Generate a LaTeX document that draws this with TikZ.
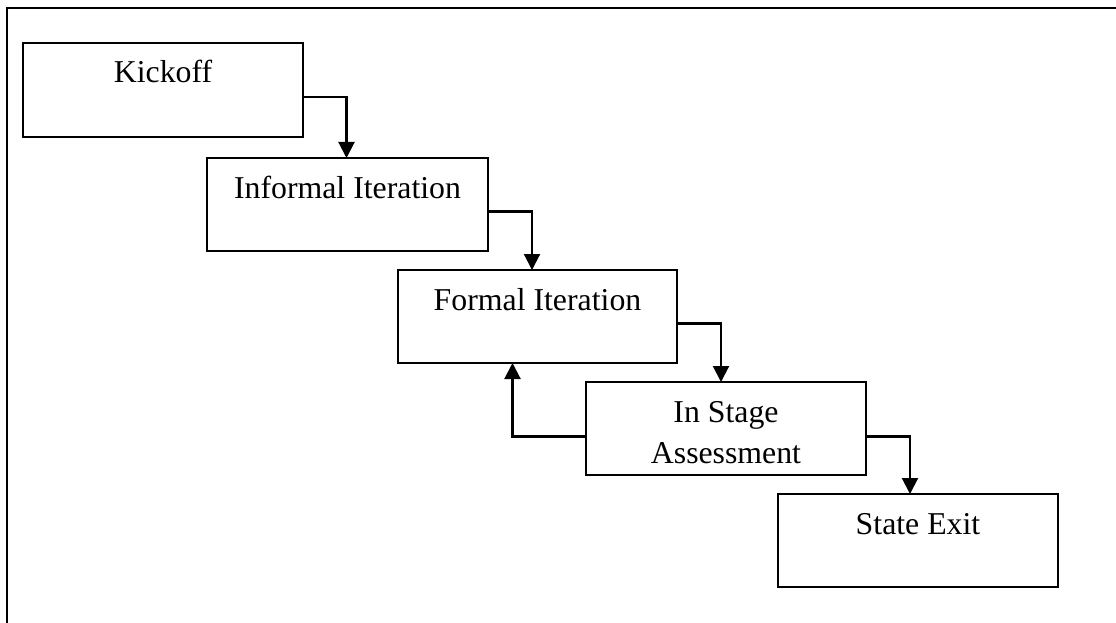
\documentclass[tikz,border=0pt]{standalone}
\usepackage{fontspec}
\setmainfont{Liberation Serif}
\usetikzlibrary{arrows.meta}

\tikzset{
  stage/.style={draw=black, line width=2.4pt, fill=white, minimum width=280pt,
                minimum height=93pt, inner sep=0pt, outer sep=0pt, anchor=north west},
  caption/.style={anchor=base, inner sep=0pt, font=\fontsize{31.8}{41}\selectfont},
  flow/.style={draw=black, line width=2.1pt, -{Triangle[length=16pt,width=16pt]}},
  frameline/.style={draw=black, line width=2.6pt}
}

\begin{document}
\begin{tikzpicture}[x=1pt, y=-1pt]
  \useasboundingbox (0,0) rectangle (1116,623);

  % open frame: top and left edges only
  \draw[frameline] (7,623) -- (7,8) -- (1116,8);

  % stages
  \node[stage, minimum height=94pt] (k) at (23,43) {};
  \node[stage, minimum width=281pt] (i) at (207,158) {};
  \node[stage, minimum width=279pt] (f) at (398,270) {};
  \node[stage] (a) at (586,382) {};
  \node[stage] (s) at (778,494) {};

  % stage captions, baseline 40pt below each top edge
  \node[caption] (kt) at ([yshift=-40pt]k.north) {Kickoff};
  \node[caption] (it) at ([yshift=-40pt]i.north) {Informal Iteration};
  \node[caption] (ft) at ([yshift=-40pt]f.north) {Formal Iteration};
  \node[caption] (at) at ([yshift=-40pt]a.north)
    {\setlength{\tabcolsep}{0pt}\begin{tabular}[t]{c}In Stage\\Assessment\end{tabular}};
  \node[caption] (st) at ([yshift=-40pt]s.north) {State Exit};

  % forward flow
  \draw[flow] ([yshift=-7pt]k.east) -| ([xshift=-1pt]i.north);
  \draw[flow] ([yshift=-7pt]i.east) -| ([xshift=-5.5pt]f.north);
  \draw[flow] ([yshift=-7pt]f.east) -| ([xshift=-5pt]a.north);
  \draw[flow] ([yshift=-8pt]a.east) -| ([xshift=-8pt]s.north);

  % loop back from assessment to formal iteration
  \draw[flow] ([yshift=-8pt]a.west) -| ([xshift=-25pt]f.south);
\end{tikzpicture}
\end{document}
